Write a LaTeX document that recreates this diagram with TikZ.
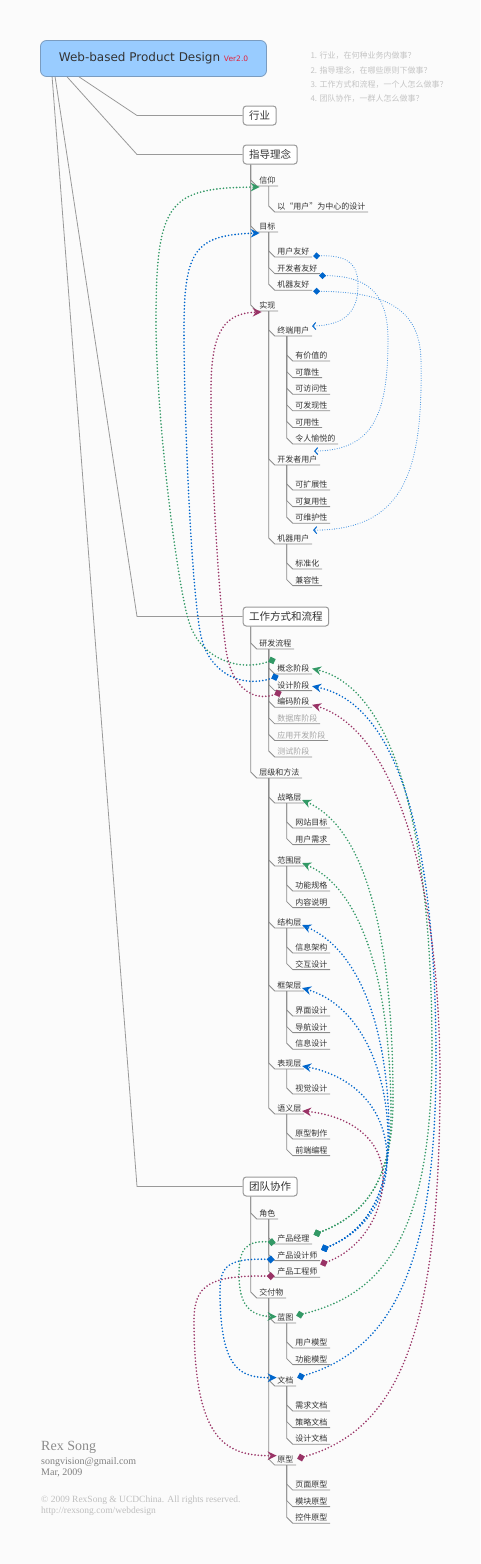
\documentclass[tikz,border=0pt]{standalone}
\usepackage{fontspec}
\setmainfont{DejaVu Sans}
\newfontfamily\cjk{Noto Sans CJK SC}
\newfontfamily\serf{Liberation Serif}
\usetikzlibrary{arrows.meta,calc}
\definecolor{bg}{HTML}{FBFBFB}
\definecolor{ink}{HTML}{333333}
\definecolor{sky}{HTML}{99CCFF}
\definecolor{skyline}{HTML}{7A9CC0}
\definecolor{verc}{HTML}{E4203A}
\definecolor{grn}{HTML}{339966}
\definecolor{blu}{HTML}{0066CC}
\definecolor{lblu}{HTML}{3D8FE0}
\definecolor{mar}{HTML}{993366}
\definecolor{faint}{HTML}{C4C4C4}
\definecolor{limbc}{HTML}{999999}
\tikzset{
  topic/.style={draw=limbc,line width=1pt,fill=white,rounded corners=3pt,font=\cjk\fontsize{10.5}{12}\selectfont,
    text=ink,inner xsep=6pt,minimum height=19pt,anchor=west},
  item/.style={font=\cjk\fontsize{8}{9}\selectfont,text=ink,inner xsep=2.5pt,inner ysep=1.5pt,anchor=south west},
  dim/.style={item,text=black!35},
  limb/.style={draw=limbc,line width=0.8pt},
  twigline/.style={draw=black!45,line width=0.8pt},
  rel/.style={line width=1.8pt,dash pattern=on 0pt off 3.3pt,line cap=round,
    arrows={Diamond[length=8pt,width=8pt]-Stealth[length=9pt,width=8.5pt,inset=3pt]}},
  hint/.style={line width=1.1pt,dash pattern=on 0pt off 2.4pt,line cap=round,draw=lblu,
    arrows={Diamond[length=7pt,width=7pt,color=blu]-Straight Barb[length=3pt,width=7pt,line width=1pt,color=blu]}},
  foot/.style={anchor=base west,inner sep=0pt}
}
% underline branch: trunk of #2 down to #3, bevel, then underline
\newcommand{\twig}[3][12]{\draw[twigline] ($(#2.south west)+(#1,0)$) -- ($(#3.south west)+(-6,-6)$)
  -- (#3.south west) -- (#3.south east);}
\begin{document}
\begin{tikzpicture}[x=1pt,y=-1pt]
\path[use as bounding box,fill=bg] (0,0) rectangle (480,1564);
% root and the four questions
\node[draw=skyline,fill=sky,rounded corners=6pt,line width=0.8pt,minimum width=226pt,minimum height=36pt,
  inner sep=0pt,font=\fontsize{12}{14}\selectfont,text=ink] (root) at (153.5,58.5)
  {Web-based Product Design {\fontsize{7.5}{9}\selectfont\color{verc}Ver2.0}};
\node[anchor=north west,align=left,font=\cjk\fontsize{8}{14.4}\selectfont,text=faint] (notes) at (307,48.5)
  {1. 行业，在何种业务内做事？\\2. 指导理念，在哪些原则下做事？\\3. 工作方式和流程，一个人怎么做事？\\4. 团队协作，一群人怎么做事？};
% main topics
\node[topic] (hy) at (242.7,115.5) {行业};
\node[topic] (zd) at (242.7,154.5) {指导理念};
\node[topic] (gz) at (242.7,616.5) {工作方式和流程};
\node[topic] (td) at (242.7,1186.5) {团队协作};
\coordinate (elbow) at (137,0);
\foreach \nm/\d in {hy/39,zd/27,gz/15,td/12}
  \draw[limb] ($(root.south west)+(\d,0)$) -- (\nm.west -| elbow) -- (\nm.west);

% 指导理念
\node[item] (xy) at (256.7,186) {信仰}; \twig[8]{zd}{xy}
\node[item] (yh) at (274.7,212) {以“用户”为中心的设计}; \twig{xy}{yh}
\node[item] (mb) at (256.7,232) {目标}; \twig[8]{zd}{mb}
\foreach \k [count=\j] in {用户友好,开发者友好,机器友好}
  {\node[item] (mb\j) at (274.7,{240.4+16.6*\j}) {\k}; \twig{mb}{mb\j}}
\node[item] (sx) at (256.7,311) {实现}; \twig[8]{zd}{sx}
\foreach \nm/\yy/\lbl/\kids in {zy/336/终端用户/{有价值的,可靠性,可访问性,可发现性,可用性,令人愉悦的},
    ky/465/开发者用户/{可扩展性,可复用性,可维护性},jy/544/机器用户/{标准化,兼容性}}{
  \node[item] (\nm) at (274.7,\yy) {\lbl}; \twig{sx}{\nm}
  \foreach \k [count=\j] in \kids
    {\node[item] (\nm\j) at (292.7,{\yy+8.4+16.6*\j}) {\k}; \twig{\nm}{\nm\j}}
}

% 工作方式和流程
\node[item] (yf) at (256.7,649) {研发流程}; \twig[8]{gz}{yf}
\foreach \k [count=\j] in {概念阶段,设计阶段,编码阶段}
  {\node[item] (st\j) at (274.7,{657.4+16.6*\j}) {\k}; \twig{yf}{st\j}}
\foreach \k [count=\j from 4] in {数据库阶段,应用开发阶段,测试阶段}
  {\node[dim] (st\j) at (274.7,{657.4+16.6*\j}) {\k}; \twig{yf}{st\j}}
\node[item] (cj) at (256.7,778) {层级和方法}; \twig[8]{gz}{cj}
\foreach \nm/\yy/\lbl/\kids in {zl/803/战略层/{网站目标,用户需求},fw/866/范围层/{功能规格,内容说明},
    jg/928/结构层/{信息架构,交互设计},kj/991/框架层/{界面设计,导航设计,信息设计},
    bx/1069/表现层/{视觉设计},yy/1114/语义层/{原型制作,前端编程}}{
  \node[item] (\nm) at (274.7,\yy) {\lbl}; \twig{cj}{\nm}
  \foreach \k [count=\j] in \kids
    {\node[item] (\nm\j) at (292.7,{\yy+8.4+16.6*\j}) {\k}; \twig{\nm}{\nm\j}}
}

% 团队协作
\node[item] (js) at (256.7,1219) {角色}; \twig[8]{td}{js}
\foreach \k [count=\j] in {产品经理,产品设计师,产品工程师}
  {\node[item] (r\j) at (274.7,{1227.4+16.6*\j}) {\k}; \twig{js}{r\j}}
\node[item] (jf) at (256.7,1298) {交付物}; \twig[8]{td}{jf}
\foreach \nm/\yy/\lbl/\kids in {lt/1323/蓝图/{用户模型,功能模型},wd/1386/文档/{需求文档,策略文档,设计文档},
    yx/1465/原型/{页面原型,模块原型,控件原型}}{
  \node[item] (\nm) at (274.7,\yy) {\lbl}; \twig{jf}{\nm}
  \foreach \k [count=\j] in \kids
    {\node[item] (\nm\j) at (292.7,{\yy+8.4+16.6*\j}) {\k}; \twig{\nm}{\nm\j}}
}

% footer
\node[foot,font=\serf\fontsize{14}{16}\selectfont,text=black!45] (author) at (41,1450) {Rex Song};
\node[foot,font=\serf\fontsize{10}{12}\selectfont,text=black!50] (mail) at (41,1464) {songvision@gmail.com};
\node[foot,font=\serf\fontsize{10}{12}\selectfont,text=black!50] (date) at (41,1475) {Mar, 2009};
\node[foot,font=\serf\fontsize{9.5}{11}\selectfont,text=black!25] (copy) at (41,1502) {© 2009 RexSong \& UCDChina. All rights reserved.};
\node[foot,font=\serf\fontsize{9.5}{11}\selectfont,text=black!25] (url) at (41,1513) {http://rexsong.com/webdesign};

% relations: phases back to principles
\draw[rel,grn] ($(st1.north west)+(1,-4)$) .. controls (240,672) and (203,660) .. (190,625)
  .. controls (178,592) and (156,420) .. (156,320) .. controls (156,200) and (170,188) .. ($(xy.south west)+(3,1)$);
\draw[rel,blu] ($(st2.north west)+(4,-4)$) .. controls (245,688) and (212,676) .. (202,640)
  .. controls (192,605) and (184,420) .. (184,330) .. controls (184,250) and (195,235) .. ($(mb.south west)+(3,1)$);
\draw[rel,mar] ($(st3.north west)+(7,-4.5)$) .. controls (255,702) and (232,690) .. (226,650)
  .. controls (220,610) and (211,480) .. (211,390) .. controls (211,330) and (225,313) .. ($(sx.south west)+(5,1)$);
% goals to users
\draw[hint] ($(mb1.south east)+(1,-1)$) .. controls (345,255) and (358,262) .. (358,285)
  .. controls (358,312) and (345,325) .. ($(zy.north east)+(0,1)$);
\draw[hint] ($(mb2.south east)+(-1,2)$) .. controls (370,276) and (388,295) .. (388,340)
  .. controls (388,420) and (370,450) .. ($(ky.north east)+(-6,-3)$);
\draw[hint] ($(mb3.south east)+(1,1)$) .. controls (380,292) and (420,305) .. (421,360)
  .. controls (423,470) and (405,530) .. ($(jy.north east)+(1,-3)$);
% deliverables to phases
\draw[rel,grn] ($(lt.east)+(0,-2)$) .. controls (380,1295) and (432,1240) .. (432,1050)
  .. controls (432,850) and (400,690) .. (st1.east);
\draw[rel,blu] ($(wd.east)+(1,-3)$) .. controls (390,1350) and (436,1270) .. (436,1060)
  .. controls (436,860) and (405,705) .. ($(st2.east)+(0,1)$);
\draw[rel,mar] ($(yx.east)+(1,-1)$) .. controls (400,1430) and (440,1330) .. (440,1080)
  .. controls (440,880) and (395,730) .. ($(st3.east)+(0,3)$);
% roles to layers
\draw[rel,grn] ($(r1.north east)+(1.5,1.5)$) .. controls (365,1215) and (393,1180) .. (393,1100)
  .. controls (393,950) and (370,830) .. ($(zl.south east)+(-2,-3)$);
\draw[rel,grn] ($(r1.north east)+(1.5,1.5)$) .. controls (365,1215) and (392,1180) .. (391,1110)
  .. controls (390,990) and (365,890) .. ($(fw.south east)+(-2,-3)$);
\draw[rel,blu] ($(r2.north east)+(1,0)$) .. controls (365,1232) and (390,1195) .. (389,1130)
  .. controls (388,1030) and (360,950) .. ($(jg.south east)+(-2,-3)$);
\draw[rel,blu] ($(r2.north east)+(1,0)$) .. controls (365,1232) and (389,1195) .. (388,1135)
  .. controls (387,1070) and (360,1005) .. ($(kj.south east)+(-2,-3)$);
\draw[rel,blu] ($(r2.north east)+(1,0)$) .. controls (365,1232) and (388,1200) .. (387,1155)
  .. controls (385,1105) and (350,1075) .. ($(bx.south east)+(-2,-3)$);
\draw[rel,mar] ($(r3.north east)+(0,-2)$) .. controls (360,1250) and (384,1215) .. (383,1175)
  .. controls (381,1135) and (345,1115) .. ($(yy.south east)+(-2,-3)$);
% roles to deliverables
\draw[rel,grn] ($(r1.south west)+(1,-1.5)$) .. controls (245,1240) and (239,1250) .. (239,1275)
  .. controls (239,1305) and (250,1316) .. ($(lt.west)+(2,-1)$);
\draw[rel,blu] ($(r2.south west)+(0,-1)$) .. controls (230,1258) and (220,1265) .. (220,1290)
  .. controls (220,1370) and (240,1378) .. ($(wd.west)+(2,-3)$);
\draw[rel,mar] ($(r3.south west)+(0,-1)$) .. controls (210,1275) and (194,1285) .. (194,1320)
  .. controls (194,1440) and (225,1456) .. ($(yx.west)+(2,-4)$);
\end{tikzpicture}
\end{document}
